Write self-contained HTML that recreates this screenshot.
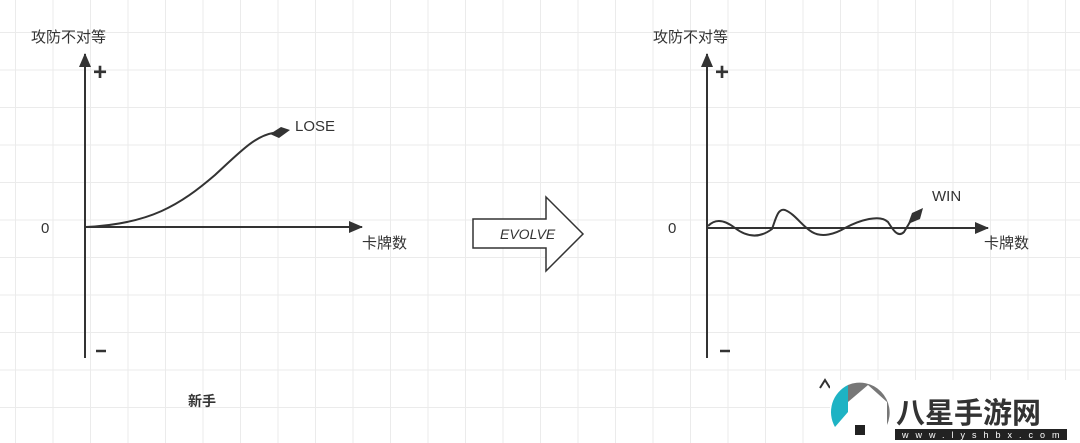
<!DOCTYPE html>
<html><head><meta charset="utf-8"><style>
html,body{margin:0;padding:0;}
body{width:1080px;height:443px;overflow:hidden;background:#fff;
background-image:linear-gradient(to right,#ebebeb 1px,transparent 1px),linear-gradient(to bottom,#ebebeb 1px,transparent 1px);
background-size:37.5px 37.5px;background-position:15px 32px;}
svg{position:absolute;left:0;top:0}
text{font-family:"Liberation Sans","Noto Sans CJK SC",sans-serif;fill:#333}
</style></head><body>
<svg width="1080" height="443" viewBox="0 0 1080 443">
<defs><marker id="a" markerWidth="14" markerHeight="12" refX="13" refY="6" orient="auto" markerUnits="userSpaceOnUse"><path d="M0,0 L14,6 L0,12 Z" fill="#333"/></marker></defs>
<g stroke="#333" stroke-width="2" fill="none">
<line x1="85" y1="358" x2="85" y2="54" marker-end="url(#a)" />
<line x1="85" y1="227" x2="362" y2="227" marker-end="url(#a)"/>
<path d="M86,227 C150,224 180,205 215,175 C240,152 255,136 273,133"/>
<line x1="707" y1="358" x2="707" y2="54" marker-end="url(#a)"/>
<line x1="707" y1="228" x2="988" y2="228" marker-end="url(#a)"/>
<path d="M708,226 C714,220 722,218 735,228 C748,238 760,238 772,229 C776,218 778,208 785,210 C795,214 802,226 812,232 C822,238 835,234 845,228 C860,220 880,214 888,222 C893,230 898,238 904,232 L910,222"/>
</g>
<path d="M270,134 L281,127 L290,130 L279,138 Z" fill="#333"/>
<path d="M908,224 L912,213 L923,208 L920,219 Z" fill="#333"/>
<path d="M473,219 L546,219 L546,197 L583,234 L546,271 L546,248 L473,248 Z" fill="#fff" stroke="#333" stroke-width="1.5"/>
<text x="500" y="239" font-size="14" font-style="italic">EVOLVE</text>
<g font-size="15">
<text x="31" y="42">攻防不对等</text><text x="653" y="42">攻防不对等</text>
<text x="362" y="248">卡牌数</text><text x="984" y="248">卡牌数</text>
<text x="41" y="233">0</text><text x="668" y="233">0</text>
<text x="295" y="131">LOSE</text><text x="932" y="201">WIN</text>
</g>
<g font-size="24" font-weight="bold"><text x="93" y="80">+</text><text x="715" y="80">+</text></g>
<g stroke="#333" stroke-width="2.5"><line x1="96" y1="351" x2="106" y2="351"/><line x1="720" y1="351" x2="730" y2="351"/></g>
<text x="188" y="406" font-size="14" font-weight="bold">新手</text>
<path d="M820,388 L825,380 L830,388" stroke="#333" stroke-width="2" fill="none"/>
<rect x="830" y="380" width="250" height="63" fill="#fff"/>
<path d="M835,427 A30,30 0 0 1 848,385 L848,412 Z" fill="#1eb3c4"/>
<path d="M848,385 A30,30 0 0 1 887,425 L887,402 L868,385 L848,402 Z" fill="#777"/>
<rect x="855" y="425" width="10" height="10" fill="#222"/>
<g font-size="29" font-weight="bold"><text x="896" y="423" fill="#222">八星手游网</text></g>
<rect x="895" y="429" width="172" height="11" fill="#222"/>
<text x="902" y="438" font-size="9" fill="#fff" style="fill:#fff;letter-spacing:7px">www.lyshbx.com</text>
</svg>
</body></html>
